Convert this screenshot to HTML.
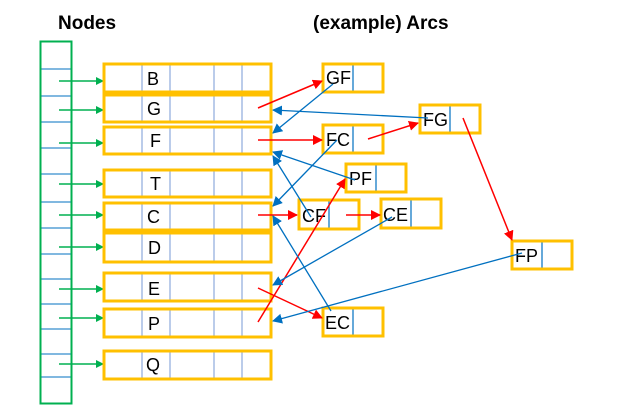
<!DOCTYPE html>
<html><head><style>body{margin:0;background:#fff}svg{display:block}text{font-family:"Liberation Sans",sans-serif}</style></head><body>
<svg width="618" height="410" viewBox="0 0 618 410" xmlns="http://www.w3.org/2000/svg">
<defs>
<marker id="g" markerWidth="8" markerHeight="8" refX="7" refY="4" orient="auto" markerUnits="userSpaceOnUse"><path d="M0,0L8,4L0,8z" fill="#00b050"/></marker>
<marker id="r" markerWidth="10" markerHeight="10" refX="9" refY="5" orient="auto" markerUnits="userSpaceOnUse"><path d="M0,0L10,5L0,10z" fill="#ff0000"/></marker>
<marker id="b" markerWidth="10" markerHeight="10" refX="9" refY="5" orient="auto" markerUnits="userSpaceOnUse"><path d="M0,0L10,5L0,10z" fill="#0070c0"/></marker>
</defs>
<text x="58" y="29" font-size="19" font-weight="bold">Nodes</text>
<text x="313" y="29" font-size="19" font-weight="bold">(example) Arcs</text>
<g stroke="#0070c0" stroke-width="1">
<line x1="41" y1="69" x2="71" y2="69"/><line x1="41" y1="96" x2="71" y2="96"/><line x1="41" y1="122" x2="71" y2="122"/><line x1="41" y1="148" x2="71" y2="148"/><line x1="41" y1="174" x2="71" y2="174"/><line x1="41" y1="202" x2="71" y2="202"/><line x1="41" y1="228" x2="71" y2="228"/><line x1="41" y1="254" x2="71" y2="254"/><line x1="41" y1="279" x2="71" y2="279"/><line x1="41" y1="304" x2="71" y2="304"/><line x1="41" y1="329" x2="71" y2="329"/><line x1="41" y1="354" x2="71" y2="354"/><line x1="41" y1="377" x2="71" y2="377"/>
</g>
<rect x="40.5" y="41.5" width="31" height="362" fill="none" stroke="#00b050" stroke-width="2"/>
<g stroke="#00b050" stroke-width="1.5" marker-end="url(#g)">
<line x1="59" y1="81" x2="103" y2="81"/><line x1="59" y1="110" x2="103" y2="110"/><line x1="59" y1="143" x2="103" y2="143"/><line x1="59" y1="184" x2="103" y2="184"/><line x1="59" y1="215" x2="103" y2="215"/><line x1="59" y1="247" x2="103" y2="247"/><line x1="59" y1="289" x2="103" y2="289"/><line x1="59" y1="318" x2="103" y2="318"/><line x1="59" y1="364" x2="103" y2="364"/>
</g>
<g fill="none">
<g stroke="#8eaadb" stroke-width="1.2">
<path d="M142 64V92M170 64V92M214 64V92M242 64V92"/>
<path d="M142 95V122M170 95V122M214 95V122M242 95V122"/>
<path d="M142 127V154M170 127V154M214 127V154M242 127V154"/>
<path d="M142 170V197M170 170V197M214 170V197M242 170V197"/>
<path d="M142 203V230M170 203V230M214 203V230M242 203V230"/>
<path d="M142 233V262M170 233V262M214 233V262M242 233V262"/>
<path d="M142 273V301M170 273V301M214 273V301M242 273V301"/>
<path d="M142 309V337M170 309V337M214 309V337M242 309V337"/>
<path d="M142 351V379M170 351V379M214 351V379M242 351V379"/>
</g>
<g stroke="#ffc000" stroke-width="3">
<rect x="104" y="64" width="167" height="28"/>
<rect x="104" y="95" width="167" height="27"/>
<rect x="104" y="127" width="167" height="27"/>
<rect x="104" y="170" width="167" height="27"/>
<rect x="104" y="203" width="167" height="27"/>
<rect x="104" y="233" width="167" height="29"/>
<rect x="104" y="273" width="167" height="28"/>
<rect x="104" y="309" width="167" height="28"/>
<rect x="104" y="351" width="167" height="28"/>
</g>
<g stroke="#0070c0" stroke-width="1.2">
<path d="M353 64V92M353 125V153M376 164V192M329 200V229M411 199V228M450 105V133M542 241V269M353 308V336"/>
</g>
<g stroke="#ffc000" stroke-width="3">
<rect x="323" y="64" width="60" height="28"/>
<rect x="323" y="125" width="60" height="28"/>
<rect x="346" y="164" width="60" height="28"/>
<rect x="299" y="200" width="60" height="29"/>
<rect x="381" y="199" width="60" height="29"/>
<rect x="420" y="105" width="60" height="28"/>
<rect x="512" y="241" width="60" height="28"/>
<rect x="323" y="308" width="60" height="28"/>
</g>
</g>
<g font-size="18" fill="#000">
<text x="147" y="85">B</text><text x="147" y="115">G</text><text x="150" y="147">F</text><text x="150" y="190">T</text><text x="147" y="223">C</text><text x="148" y="254">D</text><text x="148" y="295">E</text><text x="148" y="330">P</text><text x="146" y="371">Q</text>
<text x="326" y="84">GF</text><text x="326" y="146">FC</text><text x="349" y="185">PF</text><text x="302" y="222">CF</text><text x="383" y="221">CE</text><text x="423" y="126">FG</text><text x="515" y="262">FP</text><text x="325" y="329">EC</text>
</g>
<g stroke="#ff0000" stroke-width="1.5" marker-end="url(#r)">
<line x1="258" y1="108" x2="322" y2="81"/>
<line x1="258" y1="140" x2="322" y2="140"/>
<line x1="368" y1="139" x2="418" y2="123"/>
<line x1="258" y1="215" x2="297" y2="215"/>
<line x1="346" y1="215" x2="380" y2="215"/>
<line x1="258" y1="322" x2="345" y2="179"/>
<line x1="258" y1="288" x2="322" y2="318"/>
<line x1="463" y1="118" x2="512" y2="240"/>
</g>
<g stroke="#0070c0" stroke-width="1.3" marker-end="url(#b)">
<line x1="428" y1="118" x2="273" y2="110"/>
<line x1="333" y1="84" x2="273" y2="133"/>
<line x1="337" y1="140" x2="273" y2="206"/>
<line x1="355" y1="180" x2="273" y2="152"/>
<line x1="311" y1="217" x2="273" y2="156"/>
<line x1="392" y1="217" x2="273" y2="285"/>
<line x1="331" y1="311" x2="273" y2="216"/>
<line x1="522" y1="253" x2="273" y2="321"/>
</g>
</svg>
</body></html>
